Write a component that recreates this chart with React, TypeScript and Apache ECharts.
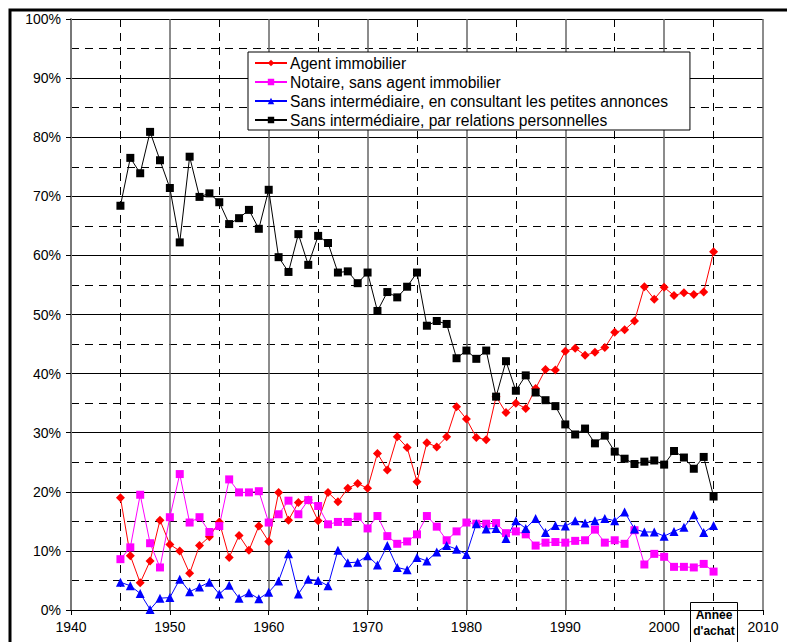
import React, { useEffect, useRef } from "react";
import * as echarts from "echarts";

const years = [
  1945, 1946, 1947, 1948, 1949, 1950, 1951, 1952, 1953, 1954,
  1955, 1956, 1957, 1958, 1959, 1960, 1961, 1962, 1963, 1964,
  1965, 1966, 1967, 1968, 1969, 1970, 1971, 1972, 1973, 1974,
  1975, 1976, 1977, 1978, 1979, 1980, 1981, 1982, 1983, 1984,
  1985, 1986, 1987, 1988, 1989, 1990, 1991, 1992, 1993, 1994,
  1995, 1996, 1997, 1998, 1999, 2000, 2001, 2002, 2003, 2004,
  2005,
];

const agent = [
  19.0, 9.2, 4.6, 8.3, 15.2, 11.1, 10.0, 6.2, 10.9, 12.4,
  14.9, 8.9, 12.6, 10.1, 14.2, 11.6, 19.9, 15.2, 18.2, 18.6,
  15.1, 19.9, 18.3, 20.6, 21.4, 20.6, 26.5, 23.7, 29.3, 27.5,
  21.7, 28.3, 27.6, 29.3, 34.4, 32.3, 29.2, 28.8, 36.1, 33.4,
  35.0, 34.1, 37.5, 40.7, 40.6, 43.8, 44.3, 43.1, 43.6, 44.4,
  47.0, 47.4, 48.9, 54.7, 52.6, 54.6, 53.2, 53.7, 53.4, 53.8,
  60.6,
];

const notaire = [
  8.6, 10.6, 19.5, 11.3, 7.2, 15.7, 23.0, 14.8, 15.7, 13.2,
  14.2, 22.1, 19.9, 19.9, 20.1, 14.8, 16.2, 18.5, 16.2, 18.6,
  17.6, 14.5, 14.9, 14.9, 15.8, 13.8, 15.9, 12.5, 11.2, 11.6,
  12.8, 15.9, 14.1, 11.8, 13.3, 14.8, 14.6, 14.6, 14.7, 13.0,
  13.3, 12.8, 10.9, 11.4, 11.5, 11.4, 11.7, 11.8, 13.6, 11.4,
  11.8, 11.2, 13.5, 7.7, 9.5, 9.0, 7.3, 7.3, 7.2, 7.8,
  6.5,
];

const annonces = [
  4.7, 4.1, 2.8, 0.1, 2.0, 2.1, 5.2, 3.1, 3.9, 4.7,
  2.7, 4.2, 2.0, 2.9, 1.9, 3.0, 4.9, 9.5, 2.7, 5.2,
  5.0, 4.1, 10.1, 8.0, 8.1, 9.2, 7.6, 10.9, 7.2, 6.8,
  8.9, 8.3, 9.8, 10.9, 10.3, 9.4, 14.6, 13.7, 13.8, 12.1,
  15.1, 13.8, 15.5, 13.1, 14.3, 14.2, 15.1, 14.7, 15.1, 15.5,
  15.1, 16.6, 13.7, 13.2, 13.2, 12.5, 13.3, 14.0, 16.1, 13.1,
  14.3,
];

const relations = [
  68.4, 76.5, 73.9, 80.9, 76.1, 71.4, 62.2, 76.7, 69.9, 70.5,
  69.0, 65.3, 66.3, 67.7, 64.5, 71.1, 59.7, 57.2, 63.6, 58.4,
  63.3, 62.1, 57.1, 57.3, 55.3, 57.1, 50.6, 53.8, 52.9, 54.7,
  57.1, 48.1, 48.9, 48.4, 42.6, 43.9, 42.5, 43.9, 36.1, 42.1,
  37.1, 39.7, 36.8, 35.5, 34.5, 31.4, 29.7, 30.7, 28.2, 29.5,
  26.8, 25.6, 24.7, 25.1, 25.3, 24.6, 26.9, 25.8, 23.9, 25.9,
  19.2,
];

const seriesNames = [
  "Agent immobilier",
  "Notaire, sans agent immobilier",
  "Sans intermédiaire, en consultant les petites annonces",
  "Sans intermédiaire, par relations personnelles",
];

const FONT = "'Liberation Sans', Arial, sans-serif";

export default function App() {
  const ref = useRef<HTMLDivElement>(null);

  useEffect(() => {
    if (!ref.current) return;
    const chart = echarts.init(ref.current, undefined, { renderer: "svg" });
    const pairs = (vals: number[]) => years.map((y, i) => [y, vals[i]]);

    const mk = (
      name: string,
      vals: number[],
      color: string,
      symbol: string,
      size: number
    ) => ({
      name,
      type: "line",
      data: pairs(vals),
      symbol,
      symbolSize: size,
      showSymbol: true,
      lineStyle: { color, width: 1 },
      itemStyle: { color },
      z: 3,
    });

    chart.setOption({
      animation: false,
      backgroundColor: "#fff",
      textStyle: { fontFamily: FONT },
      grid: { left: 71, right: 24, top: 19, bottom: 32, containLabel: false },
      legend: {
        left: 248,
        top: 52,
        orient: "vertical",
        backgroundColor: "#fff",
        borderColor: "#000",
        borderWidth: 1,
        padding: [3, 22, 2, 6],
        itemGap: 3,
        itemWidth: 32,
        itemHeight: 8,
        textStyle: {
          fontFamily: FONT,
          fontSize: 15.6,
          lineHeight: 16,
          color: "#000",
          padding: [0, 0, 0, -2],
        },
        data: seriesNames,
      },
      xAxis: {
        type: "value",
        min: 1940,
        max: 2010,
        interval: 10,
        axisLine: { show: true, onZero: false, lineStyle: { color: "#000", width: 1 } },
        axisTick: { show: true, length: 5, lineStyle: { color: "#000" } },
        axisLabel: {
          fontFamily: FONT,
          fontSize: 14,
          color: "#000",
          margin: 10,
          formatter: (v: number) => String(v),
        },
        splitLine: { show: true, lineStyle: { color: "#666", width: 1.5 } },
        minorTick: { show: false, splitNumber: 2 },
        minorSplitLine: {
          show: true,
          lineStyle: { color: "#000", width: 1, type: [8, 6] },
        },
      },
      yAxis: {
        type: "value",
        min: 0,
        max: 100,
        interval: 10,
        axisLine: { show: true, lineStyle: { color: "#777", width: 2 } },
        axisTick: { show: true, length: 5, lineStyle: { color: "#000" } },
        axisLabel: {
          fontFamily: FONT,
          fontSize: 14,
          color: "#000",
          margin: 10,
          formatter: "{value}%",
        },
        splitLine: { show: true, lineStyle: { color: "#000", width: 1 } },
        minorTick: { show: false, splitNumber: 2 },
        minorSplitLine: {
          show: true,
          lineStyle: { color: "#000", width: 1, type: [8, 6] },
        },
      },
      series: [
        mk(seriesNames[0], agent, "#FF0000", "diamond", 9),
        mk(seriesNames[1], notaire, "#FF00FF", "rect", 8),
        mk(seriesNames[2], annonces, "#0000FF", "triangle", 9),
        mk(seriesNames[3], relations, "#000000", "rect", 8),
      ],
      graphic: [
        {
          type: "rect",
          shape: { x: 10, y: 10, width: 900, height: 800 },
          style: { fill: "none", stroke: "#000", lineWidth: 3 },
          silent: true,
          z: 100,
        },
        {
          type: "group",
          left: 690,
          top: 602,
          z: 100,
          children: [
            {
              type: "rect",
              shape: { x: 0, y: 0, width: 47, height: 44 },
              style: { fill: "#fff", stroke: "#000", lineWidth: 1 },
            },
            {
              type: "text",
              x: 23.5,
              y: 4,
              style: {
                text: "Année\nd'achat",
                fontFamily: FONT,
                fontSize: 12,
                fontWeight: "bold",
                fill: "#000",
                align: "center",
                verticalAlign: "top",
                lineHeight: 16,
              },
            },
          ],
        },
      ],
    });

    return () => chart.dispose();
  }, []);

  return (
    <div
      ref={ref}
      style={{ position: "fixed", left: 0, top: 0, width: 787, height: 642 }}
    />
  );
}
